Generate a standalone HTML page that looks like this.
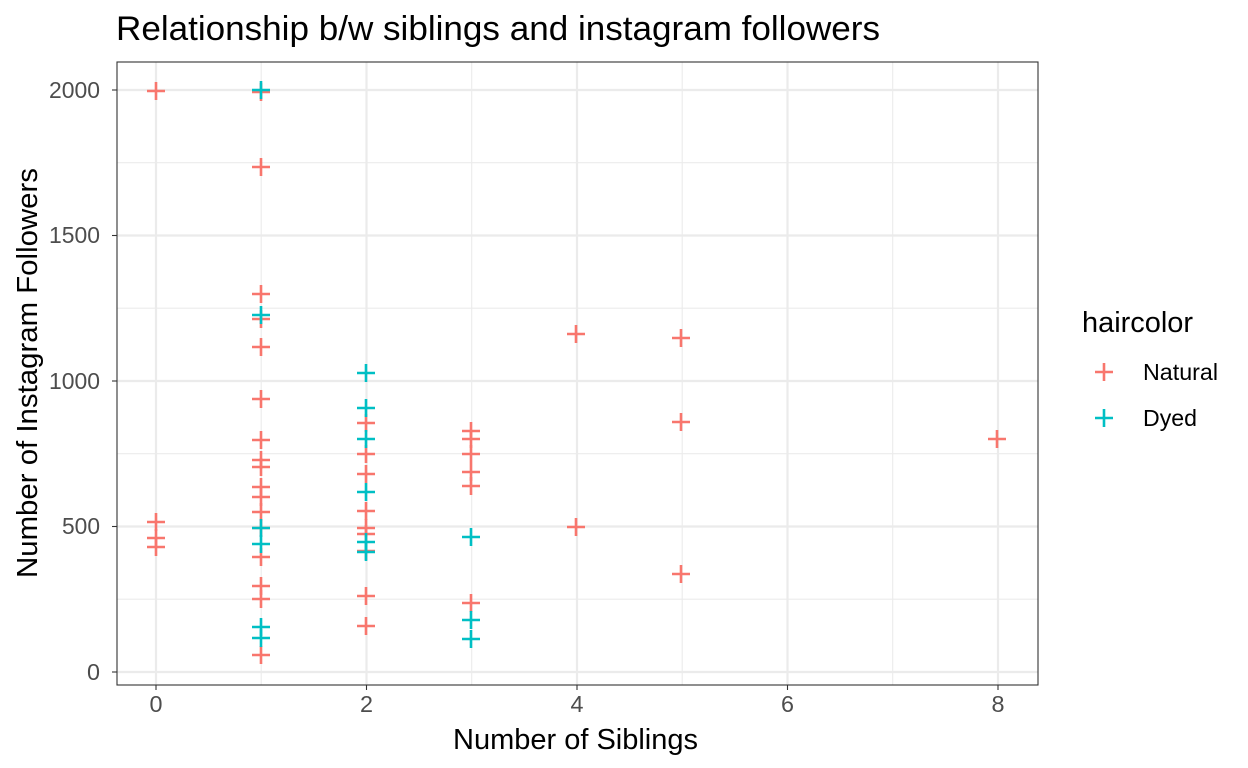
<!DOCTYPE html>
<html><head><meta charset="utf-8"><style>body{margin:0;background:#fff}svg{display:block}text{font-family:"Liberation Sans",Arial,sans-serif}</style></head>
<body>
<svg width="1248" height="768" viewBox="0 0 1248 768" xmlns="http://www.w3.org/2000/svg">
<defs><path id="c" d="M-9 0H9M0 -9V9" stroke-width="2.6" fill="none"/></defs>
<rect x="117" y="62" width="921" height="623" fill="#fff"/>
<g stroke="#ebebeb" stroke-width="1.1">
<line x1="117" x2="1038" y1="599.2" y2="599.2"/><line x1="117" x2="1038" y1="453.7" y2="453.7"/><line x1="117" x2="1038" y1="308.2" y2="308.2"/><line x1="117" x2="1038" y1="162.7" y2="162.7"/>
<line y1="62" y2="685" x1="261.2" x2="261.2"/><line y1="62" y2="685" x1="471.7" x2="471.7"/><line y1="62" y2="685" x1="682.2" x2="682.2"/><line y1="62" y2="685" x1="892.7" x2="892.7"/>
</g>
<g stroke="#ebebeb" stroke-width="2.2">
<line x1="117" x2="1038" y1="672" y2="672"/><line x1="117" x2="1038" y1="526.5" y2="526.5"/><line x1="117" x2="1038" y1="381" y2="381"/><line x1="117" x2="1038" y1="235.5" y2="235.5"/><line x1="117" x2="1038" y1="90" y2="90"/>
<line y1="62" y2="685" x1="156" x2="156"/><line y1="62" y2="685" x1="366.5" x2="366.5"/><line y1="62" y2="685" x1="577" x2="577"/><line y1="62" y2="685" x1="787.5" x2="787.5"/><line y1="62" y2="685" x1="998" x2="998"/>
</g>
<g stroke="#F8766D">
<use href="#c" x="156" y="91"/><use href="#c" x="156" y="522"/><use href="#c" x="156" y="538"/><use href="#c" x="156" y="547"/>
<use href="#c" x="261" y="92"/><use href="#c" x="261" y="167"/><use href="#c" x="261" y="294"/><use href="#c" x="261" y="319"/><use href="#c" x="261" y="347"/>
<use href="#c" x="261" y="399"/><use href="#c" x="261" y="440"/><use href="#c" x="261" y="460"/><use href="#c" x="261" y="467"/><use href="#c" x="261" y="487"/><use href="#c" x="261" y="497"/><use href="#c" x="261" y="512"/><use href="#c" x="261" y="528"/><use href="#c" x="261" y="557"/><use href="#c" x="261" y="586"/><use href="#c" x="261" y="599"/><use href="#c" x="261" y="655"/>
<use href="#c" x="366" y="423"/><use href="#c" x="366" y="454"/><use href="#c" x="366" y="474"/><use href="#c" x="366" y="511"/><use href="#c" x="366" y="528"/><use href="#c" x="366" y="534"/><use href="#c" x="366" y="551"/><use href="#c" x="366" y="596"/><use href="#c" x="366" y="626"/>
<use href="#c" x="471" y="431"/><use href="#c" x="471" y="439"/><use href="#c" x="471" y="454"/><use href="#c" x="471" y="472"/><use href="#c" x="471" y="486"/><use href="#c" x="471" y="603"/>
<use href="#c" x="576" y="334"/><use href="#c" x="576" y="527"/>
<use href="#c" x="681" y="338"/><use href="#c" x="681" y="422"/><use href="#c" x="681" y="574"/>
<use href="#c" x="997" y="439"/>
<use href="#c" x="1104" y="372"/>
</g>
<g stroke="#00BFC4">
<use href="#c" x="261" y="90"/><use href="#c" x="261" y="315"/><use href="#c" x="261" y="528"/><use href="#c" x="261" y="544"/><use href="#c" x="261" y="627"/><use href="#c" x="261" y="638"/>
<use href="#c" x="366" y="373"/><use href="#c" x="366" y="408"/><use href="#c" x="366" y="439"/><use href="#c" x="366" y="492"/><use href="#c" x="366" y="542"/><use href="#c" x="366" y="552"/>
<use href="#c" x="471" y="537"/><use href="#c" x="471" y="620"/><use href="#c" x="471" y="639"/>
<use href="#c" x="1104" y="418"/>
</g>
<rect x="117" y="62" width="921" height="623" fill="none" stroke="#333" stroke-width="1.1"/>
<g stroke="#333" stroke-width="1.1">
<line x1="112" x2="117" y1="672" y2="672"/><line x1="112" x2="117" y1="526.5" y2="526.5"/><line x1="112" x2="117" y1="381" y2="381"/><line x1="112" x2="117" y1="235.5" y2="235.5"/><line x1="112" x2="117" y1="90" y2="90"/>
<line y1="685" y2="690" x1="156" x2="156"/><line y1="685" y2="690" x1="366.5" x2="366.5"/><line y1="685" y2="690" x1="577" x2="577"/><line y1="685" y2="690" x1="787.5" x2="787.5"/><line y1="685" y2="690" x1="998" x2="998"/>
</g>
<g fill="#4d4d4d" font-size="23">
<text x="87" y="680" textLength="13" lengthAdjust="spacingAndGlyphs">0</text>
<text x="62" y="534" textLength="38" lengthAdjust="spacingAndGlyphs">500</text>
<text x="49" y="389" textLength="51" lengthAdjust="spacingAndGlyphs">1000</text>
<text x="49" y="243" textLength="51" lengthAdjust="spacingAndGlyphs">1500</text>
<text x="49" y="98" textLength="51" lengthAdjust="spacingAndGlyphs">2000</text>
<text x="149.5" y="712" textLength="13" lengthAdjust="spacingAndGlyphs">0</text>
<text x="360" y="712" textLength="13" lengthAdjust="spacingAndGlyphs">2</text>
<text x="570.5" y="712" textLength="13" lengthAdjust="spacingAndGlyphs">4</text>
<text x="781" y="712" textLength="13" lengthAdjust="spacingAndGlyphs">6</text>
<text x="991.5" y="712" textLength="13" lengthAdjust="spacingAndGlyphs">8</text>
</g>
<text x="453" y="749" font-size="29" textLength="245" lengthAdjust="spacingAndGlyphs">Number of Siblings</text>
<text transform="translate(37,578) rotate(-90)" font-size="29" textLength="410" lengthAdjust="spacingAndGlyphs">Number of Instagram Followers</text>
<text x="116" y="40" font-size="34" textLength="764" lengthAdjust="spacingAndGlyphs">Relationship b/w siblings and instagram followers</text>
<text x="1082" y="332" font-size="29" textLength="111" lengthAdjust="spacingAndGlyphs">haircolor</text>
<text x="1143" y="380" font-size="23" textLength="75" lengthAdjust="spacingAndGlyphs">Natural</text>
<text x="1143" y="426" font-size="23" textLength="54" lengthAdjust="spacingAndGlyphs">Dyed</text>
</svg>
</body></html>
